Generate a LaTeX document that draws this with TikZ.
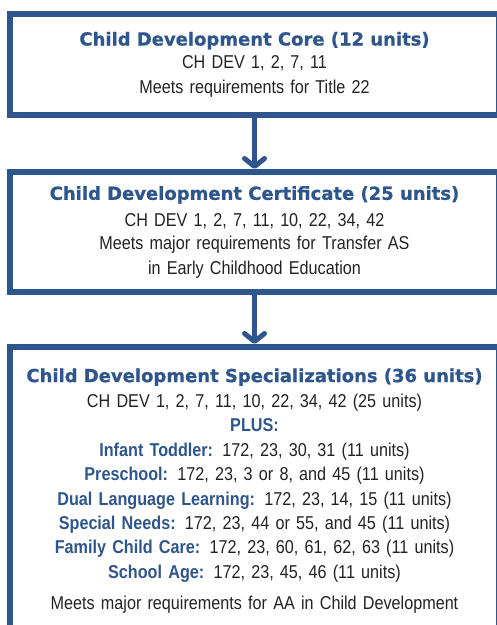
\documentclass[tikz,border=0pt]{standalone}
\usepackage{fontspec}
\setmainfont{Liberation Sans}[FakeStretch=0.87]
\newfontfamily\headfont{DejaVu Sans}[BoldFeatures={FakeBold=0.8}]
\usetikzlibrary{arrows.meta}
\definecolor{cdblue}{RGB}{47,86,140}
\definecolor{cdtext}{RGB}{34,34,34}
% heading and blue label inside the boxes
\newcommand{\hd}[1]{{\headfont\bfseries\fontsize{18}{24}\selectfont\color{cdblue}#1}}
\newcommand{\lbl}[1]{{\bfseries\color{cdblue}#1}}
\begin{document}
\begin{tikzpicture}[x=1pt,y=1pt,
  box/.style={draw=cdblue,line width=6pt,minimum width=489pt,text width=484pt,
    align=center,anchor=north,inner sep=0pt,text=cdtext,
    font=\fontsize{18.6}{24.4}\selectfont},
  flow/.style={draw=cdblue,line width=5pt,-{Straight Barb[length=8pt,width=20pt,round]}}]
\clip (0,0) rectangle (497,-625);
%
\node[box,minimum height=101pt] (core) at (254.5,-11)
  {\hd{Child Development Core (12 units)}\\[-1pt]
   CH DEV 1, 2, 7, 11\\
   Meets requirements for Title 22};
%
\node[box,minimum height=120pt] (cert) at (254.5,-169)
  {\hd{Child Development Certificate (25 units)}\\[2pt]
   CH DEV 1, 2, 7, 11, 10, 22, 34, 42\\[-1pt]
   Meets major requirements for Transfer AS\\
   in Early Childhood Education};
%
\node[box,minimum height=288pt] (spec) at (254.5,-344)
  {\hd{Child Development Specializations (36 units)}\\[1pt]
   CH DEV 1, 2, 7, 11, 10, 22, 34, 42 (25 units)\\
   \lbl{PLUS:}\\
   \lbl{Infant Toddler:} 172, 23, 30, 31 (11 units)\\
   \lbl{Preschool:} 172, 23, 3 or 8, and 45 (11 units)\\
   \lbl{Dual Language Learning:} 172, 23, 14, 15 (11 units)\\
   \lbl{Special Needs:} 172, 23, 44 or 55, and 45 (11 units)\\
   \lbl{Family Child Care:} 172, 23, 60, 61, 62, 63 (11 units)\\
   \lbl{School Age:} 172, 23, 45, 46 (11 units)\\[7pt]
   Meets major requirements for AA in Child Development\\[6pt]};
%
\draw[flow] (core) -- (cert);
\draw[flow] (cert) -- (spec);
\end{tikzpicture}
\end{document}
